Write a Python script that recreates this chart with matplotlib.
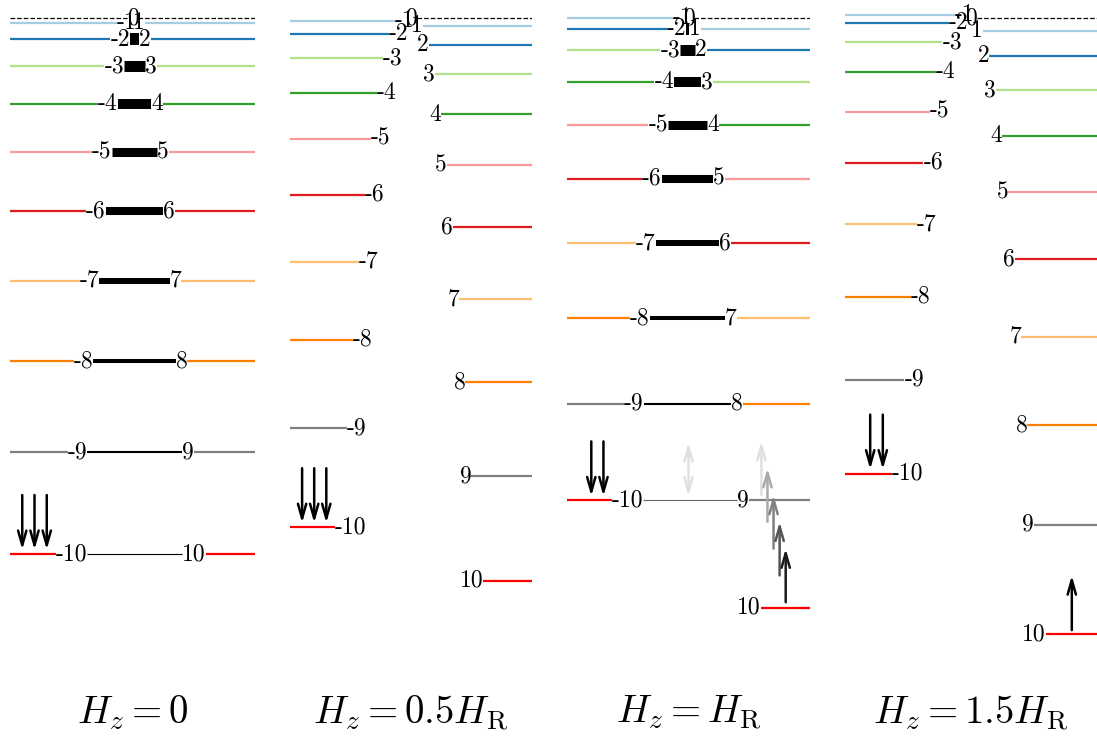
import matplotlib
matplotlib.use("Agg")
import matplotlib.pyplot as plt

plt.rcParams['mathtext.fontset'] = 'cm'

# ---------------- data ----------------
m_values = [-10, -9, -8, -7, -6, -5, -4, -3, -2, -1, 0, 1, 2, 3, 4, 5, 6, 7, 8, 9, 10]

# level energies (units of D), one list per field
energy_h0 = [-100, -81, -64, -49, -36, -25, -16, -9, -4, -1, 0,
             -1, -4, -9, -16, -25, -36, -49, -64, -81, -100]
energy_h05 = [-95, -76.5, -60, -45.5, -33, -22.5, -14, -7.5, -3, -0.5, 0,
              -1.5, -5, -10.5, -18, -27.5, -39, -52.5, -68, -85.5, -105]
energy_h1 = [-90, -72, -56, -42, -30, -20, -12, -6, -2, 0, 0,
             -2, -6, -12, -20, -30, -42, -56, -72, -90, -110]
energy_h15 = [-85, -67.5, -52, -38.5, -27, -17.5, -10, -4.5, -1, 0.5, 0,
              -2.5, -7, -13.5, -22, -32.5, -45, -59.5, -76, -94.5, -115]

panel_titles = [r'$H_z = 0$', r'$H_z = 0.5H_\mathrm{R}$',
                r'$H_z = H_\mathrm{R}$', r'$H_z = 1.5H_\mathrm{R}$']

# resonant (degenerate) pairs: (left state, right state)
pairs_h0 = [(-10, 10), (-9, 9), (-8, 8), (-7, 7), (-6, 6), (-5, 5), (-4, 4), (-3, 3), (-2, 2), (-1, 1)]
pairs_h1 = [(-10, 9), (-9, 8), (-8, 7), (-7, 6), (-6, 5), (-5, 4), (-4, 3), (-3, 2), (-2, 1), (-1, 0)]

# ---------------- styles ----------------
level_colors = {0: 'black', 1: '#a6cee3', 2: '#1f78b4', 3: '#b2df8a', 4: '#33a02c',
                5: '#fb9a99', 6: '#e31a1c', 7: '#fdbf6f', 8: '#ff7f00',
                9: '#808080', 10: '#ff0000'}
# connector line width by |left state|
split_lw = {10: 0.8, 9: 1.5, 8: 2.9, 7: 4.3, 6: 5.8, 5: 6.5, 4: 7.2, 3: 7.9, 2: 8.6, 1: 9.4}

W, H = 1097, 736
fig = plt.figure(figsize=(W / 100, H / 100), dpi=100)
renderer = fig.canvas.get_renderer()

panel_px = [(10, 255), (290, 532), (567, 810), (845, 1097)]
y_top_px, y_bot_px = 0, 660
E_top = 18 / 5.36
E_bot = -(y_bot_px - 18) / 5.36

panels = [
    dict(E=energy_h0, pairs=pairs_h0, left_zero=True),
    dict(E=energy_h05, pairs=[], left_zero=False),
    dict(E=energy_h1, pairs=pairs_h1, left_zero=False),
    dict(E=energy_h15, pairs=[], left_zero=False),
]

LABEL_FS = 17
LABEL_FONT = ['cmr10', 'DejaVu Serif']


def data_extent(ax, txt):
    bb = txt.get_window_extent(renderer)
    inv = ax.transData.inverted()
    (x0, _), (x1, _) = inv.transform([(bb.x0, bb.y0), (bb.x1, bb.y1)])
    return x0, x1


axes = []
for i, (p, (xl, xr)) in enumerate(zip(panels, panel_px)):
    ax = fig.add_axes([xl / W, 1 - y_bot_px / H, (xr - xl) / W, (y_bot_px - y_top_px) / H])
    ax.set_xlim(-1, 1)
    ax.set_ylim(E_bot, E_top)
    ax.axis('off')
    axes.append(ax)
    E = dict(zip(m_values, p['E']))

    extents = {}
    for m in m_values:
        t = ax.text(m / 20, E[m], str(m), ha='center', va='center',
                    fontsize=LABEL_FS, family=LABEL_FONT, zorder=5)
        extents[m] = data_extent(ax, t)

    # level lines
    for m in m_values:
        col = level_colors[abs(m)]
        ls = '--' if m == 0 else '-'
        lw = 0.9 if m == 0 else 1.6
        x0, x1 = extents[m]
        if m >= 0:
            ax.plot([x1, 1], [E[m], E[m]], color=col, ls=ls, lw=lw,
                    solid_capstyle='butt', zorder=2)
        if m < 0 or (m == 0 and p['left_zero']):
            ax.plot([-1, x0], [E[m], E[m]], color=col, ls=ls, lw=lw,
                    solid_capstyle='butt', zorder=2)

    # tunnelling connectors
    for (ml, mr) in p['pairs']:
        xa = extents[ml][1]
        xb = extents[mr][0]
        if xb <= xa:
            continue
        col = '#666666' if (i == 2 and ml == -10) else 'black'
        ax.plot([xa, xb], [E[ml], E[ml]], color=col, lw=split_lw[abs(ml)],
                solid_capstyle='butt', zorder=3)

    p['Emap'] = E


def arrow(ax, x, e0, e1, color='black', style='->'):
    ax.annotate('', xy=(x, e1), xytext=(x, e0),
                arrowprops=dict(arrowstyle=style + ',head_length=0.7,head_width=0.2',
                                color=color, lw=1.8, shrinkA=0, shrinkB=0,
                                mutation_scale=15), zorder=6)


# spins dropping into the -10 well
E0 = panels[0]['Emap']
for x in (-0.9, -0.8, -0.7):
    arrow(axes[0], x, E0[-10] + 11, E0[-10] + 0.8)
E1 = panels[1]['Emap']
for x in (-0.9, -0.8, -0.7):
    arrow(axes[1], x, E1[-10] + 11, E1[-10] + 0.8)
E2 = panels[2]['Emap']
for x in (-0.8, -0.7):
    arrow(axes[2], x, E2[-10] + 11, E2[-10] + 0.8)
E3 = panels[3]['Emap']
for x in (-0.8, -0.7):
    arrow(axes[3], x, E3[-10] + 11, E3[-10] + 0.8)
arrow(axes[3], 0.8, E3[10] + 0.8, E3[10] + 11)

# resonance at H_R: tunnelling and climbing out of m=10
arrow(axes[2], 0.0, E2[-10] + 0.8, E2[-10] + 10.8, color='#e0e0e0', style='<->')
stair_colors = ['#e0e0e0', '#aaaaaa', '#808080', '#555555', '#1a1a1a']
stair_x = [0.60, 0.65, 0.70, 0.75, 0.80]
for k, (x, c) in enumerate(zip(stair_x, stair_colors)):
    start = E2[10] + 1 + 5 * (4 - k)
    arrow(axes[2], x, start, start + 10, color=c)

# titles
for (xl, xr), title in zip(panel_px, panel_titles):
    fig.text((xl + xr) / 2 / W, 1 - 713 / H, title, ha='center', va='center', fontsize=28)

fig.savefig('out.png', dpi=100)
